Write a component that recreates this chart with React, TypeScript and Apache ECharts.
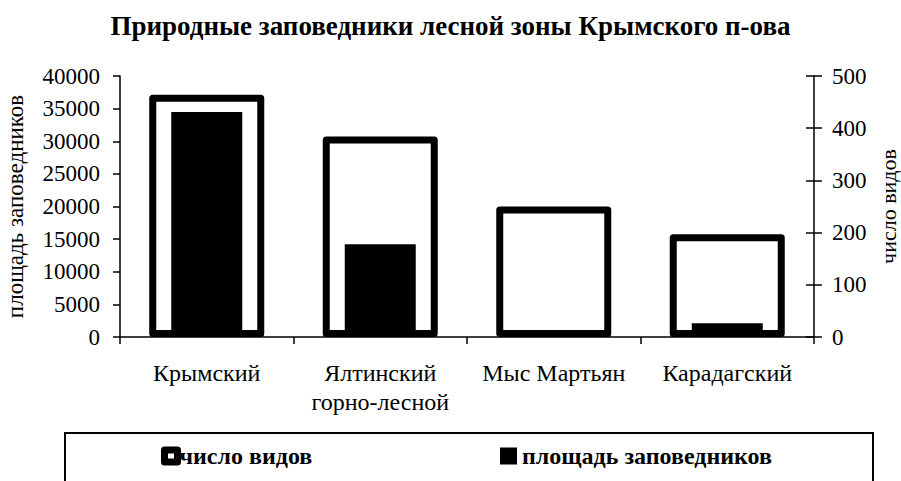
import React, { useEffect, useRef } from "react";
import * as echarts from "echarts";

const categories = ["Крымский", "Ялтинский\nгорно-лесной", "Мыс Мартьян", "Карадагский"];
const speciesCount = [464, 384, 250, 197];
const reserveArea = [34500, 14200, 240, 2100];
const areaAxis = { min: 0, max: 40000, interval: 5000 };
const speciesAxis = { min: 0, max: 500, interval: 100 };
const titleText = "Природные заповедники лесной зоны Крымского п-ова";
const speciesName = "число видов";
const areaName = "площадь заповедников";

const FONT = "'Liberation Serif', 'Times New Roman', serif";

export default function App() {
  const ref = useRef<HTMLDivElement>(null);
  useEffect(() => {
    if (!ref.current) return;
    const chart = echarts.init(ref.current, null, { renderer: "svg" });
    const axisLine = { show: true, lineStyle: { color: "#000", width: 1.5 } };
    const labelStyle = { color: "#000", fontFamily: FONT, fontSize: 23 };
    const plain = (v: number) => String(v);
    chart.setOption({
      animation: false,
      backgroundColor: "#fff",
      title: {
        text: titleText,
        left: "center",
        top: 7,
        textStyle: { color: "#000", fontFamily: FONT, fontSize: 27, fontWeight: "bold" },
      },
      grid: { left: 120, right: 87, top: 76, bottom: 144, containLabel: false, outerBoundsMode: "none" },
      legend: [
        {
          data: [{ name: speciesName, itemStyle: { color: "#fff", borderColor: "#000", borderWidth: 7, borderJoin: "round" } }],
          left: 161,
          top: 444,
          padding: 0,
          itemWidth: 13,
          itemHeight: 12,
          icon: "rect",
          itemGap: 0,
          textStyle: { color: "#000", fontFamily: FONT, fontSize: 24, fontWeight: "bold", padding: [0, 0, 0, -3] },
          selectedMode: false,
        },
        {
          data: [{ name: areaName, itemStyle: { color: "#000", borderWidth: 0 } }],
          left: 500,
          top: 444,
          padding: 0,
          itemWidth: 17,
          itemHeight: 17,
          icon: "rect",
          textStyle: { color: "#000", fontFamily: FONT, fontSize: 24, fontWeight: "bold" },
          selectedMode: false,
        },
      ],
      graphic: [
        {
          type: "rect",
          shape: { x: 65, y: 433, width: 808, height: 100 },
          style: { fill: "none", stroke: "#000", lineWidth: 2 },
          silent: true,
        },
      ],
      xAxis: [
        {
          type: "category",
          data: categories,
          axisLine,
          axisTick: { show: true, length: 7, lineStyle: { color: "#000", width: 1.5 } },
          axisLabel: { ...labelStyle, fontSize: 24, margin: 21, lineHeight: 29, interval: 0 },
        },
        {
          type: "category",
          data: categories,
          show: false,
        },
      ],
      yAxis: [
        {
          type: "value",
          position: "left",
          ...areaAxis,
          name: areaName,
          nameLocation: "middle",
          nameRotate: 90,
          nameGap: 93,
          nameTextStyle: { ...labelStyle },
          axisLine,
          axisTick: { show: true, length: 7, lineStyle: { color: "#000", width: 1.5 } },
          axisLabel: { ...labelStyle, margin: 20, formatter: plain },
          splitLine: { show: false },
        },
        {
          type: "value",
          position: "right",
          ...speciesAxis,
          name: speciesName,
          nameLocation: "middle",
          nameRotate: 90,
          nameGap: 61,
          nameTextStyle: { ...labelStyle, fontSize: 22 },
          axisLine,
          axisTick: { show: true, length: 8, lineStyle: { color: "#000", width: 1.5 } },
          axisLabel: { ...labelStyle, margin: 18, formatter: plain },
          splitLine: { show: false },
        },
        {
          type: "value",
          position: "right",
          ...speciesAxis,
          axisLine: { show: false },
          axisTick: { show: true, inside: true, length: 8, lineStyle: { color: "#000", width: 1.5 } },
          axisLabel: { show: false },
          splitLine: { show: false },
        },
      ],
      series: [
        {
          name: speciesName,
          type: "bar",
          xAxisIndex: 0,
          yAxisIndex: 1,
          data: speciesCount,
          barWidth: 115,
          itemStyle: { color: "#fff", borderColor: "#000", borderWidth: 7, borderJoin: "round" },
          emphasis: { disabled: true },
        },
        {
          name: areaName,
          type: "bar",
          xAxisIndex: 1,
          yAxisIndex: 0,
          data: reserveArea,
          barWidth: 71,
          itemStyle: { color: "#000" },
          emphasis: { disabled: true },
        },
      ],
    });
    return () => chart.dispose();
  }, []);
  return (
    <div
      ref={ref}
      style={{ position: "absolute", left: 0, top: 0, width: 901, height: 481, background: "#fff" }}
    />
  );
}
